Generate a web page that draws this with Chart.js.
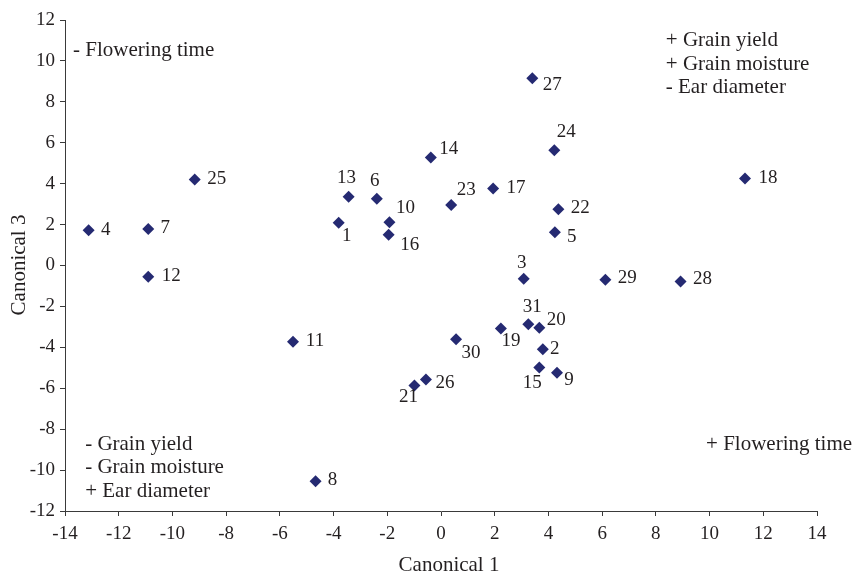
<!DOCTYPE html>
<html>
<head>
<meta charset="utf-8">
<script src="https://cdn.jsdelivr.net/npm/chart.js@4/dist/chart.umd.min.js"></script>
<style>
  html, body { margin: 0; padding: 0; background: #fff; }
  canvas { display: block; }
</style>
</head>
<body>
<canvas id="chart" width="855" height="577"></canvas>
<script>
// genotype numbers and their canonical scores
const genotypes = ['1','2','3','4','5','6','7','8','9','10','11','12','13','14','15','16',
                   '17','18','19','20','21','22','23','24','25','26','27','28','29','30','31'];
const canonical1 = [-3.81, 3.79, 3.08, -13.12, 4.24, -2.39, -10.90, -4.67, 4.32, -1.92, -5.51,
                    -10.90, -3.44, -0.38, 3.66, -1.95, 1.94, 11.32, 2.23, 3.66, -0.99, 4.37,
                    0.38, 4.22, -9.17, -0.56, 3.40, 8.92, 6.12, 0.56, 3.25];
const canonical3 = [2.09, -4.09, -0.65, 1.72, 1.63, 3.26, 1.79, -10.54, -5.24, 2.12, -3.73,
                    -0.55, 3.36, 5.28, -4.98, 1.50, 3.76, 4.25, -3.08, -3.04, -5.86, 2.75,
                    2.96, 5.63, 4.20, -5.57, 9.15, -0.78, -0.70, -3.60, -2.87];

// quadrant notes
const notes = [
    ['- Flowering time'],
    ['+ Grain yield', '+ Grain moisture', '- Ear diameter'],
    ['- Grain yield', '- Grain moisture', '+ Ear diameter'],
    ['+ Flowering time']
];

const textColor = '#231f20';
const axisColor = '#3a3a3a';
const serif = "'Liberation Serif', 'Times New Roman', serif";

// where each number sits relative to its marker (pixels)
const labelOffsets = {
    '1': [8, 13], '2': [12, 0], '3': [-2, -16], '4': [17, 0], '5': [17, 5], '6': [-2, -18],
    '7': [17, -1], '8': [17, -1], '9': [12, 7], '10': [16, -14], '11': [22, -1], '12': [23, -1],
    '13': [-2, -19], '14': [18, -8], '15': [-7, 16], '16': [21, 10], '17': [23, -1], '18': [23, -1],
    '19': [10, 13], '20': [17, -8], '21': [-6, 12], '22': [22, -1], '23': [15, -15], '24': [12, -18],
    '25': [22, -1], '26': [19, 4], '27': [20, 7], '28': [22, -2], '29': [22, -2], '30': [15, 14],
    '31': [4, -17]
};

// note anchors in data units (left edge, first baseline)
const noteAnchors = [[-13.7, 10.26], [8.37, 10.71], [-13.25, -9.0], [9.87, -9.0]];

const pointLabels = {
    id: 'pointLabels',
    afterDatasetsDraw(chart) {
        const ctx = chart.ctx;
        const meta = chart.getDatasetMeta(0);
        ctx.save();
        ctx.font = '19px ' + serif;
        ctx.fillStyle = textColor;
        ctx.textAlign = 'center';
        ctx.textBaseline = 'middle';
        meta.data.forEach((pt, i) => {
            const off = labelOffsets[genotypes[i]] || [15, 0];
            ctx.fillText(genotypes[i], pt.x + off[0], pt.y + off[1]);
        });

        const xs = chart.scales.x, ys = chart.scales.y;
        ctx.font = '21px ' + serif;
        ctx.textAlign = 'left';
        ctx.textBaseline = 'alphabetic';
        notes.forEach((lines, k) => {
            const x = xs.getPixelForValue(noteAnchors[k][0]);
            const y = ys.getPixelForValue(noteAnchors[k][1]);
            lines.forEach((line, j) => ctx.fillText(line, x, y + j * 23.5));
        });

        // axis titles
        ctx.textAlign = 'center';
        ctx.textBaseline = 'middle';
        ctx.fillText('Canonical 1', 449, 565);
        ctx.translate(19, 265);
        ctx.rotate(-Math.PI / 2);
        ctx.fillText('Canonical 3', 0, 0);
        ctx.restore();
    }
};

const ctx = document.getElementById('chart').getContext('2d');
new Chart(ctx, {
    type: 'scatter',
    data: {
        datasets: [{
            data: canonical1.map((v, i) => ({ x: v, y: canonical3[i] })),
            pointStyle: 'rectRot',
            pointRadius: 6,
            pointHoverRadius: 6,
            backgroundColor: '#252a72',
            borderColor: '#252a72',
            borderWidth: 0
        }]
    },
    options: {
        responsive: false,
        animation: false,
        layout: { padding: { top: 20, right: 38, left: 0, bottom: 0 } },
        plugins: { legend: { display: false }, tooltip: { enabled: false } },
        scales: {
            x: {
                type: 'linear',
                min: -14, max: 14,
                afterFit: s => { s.height = 66; },
                ticks: { stepSize: 2, color: textColor, padding: 7, font: { family: serif, size: 19 } },
                grid: { drawOnChartArea: false, drawTicks: true, tickLength: 5, color: axisColor },
                border: { display: true, color: axisColor, width: 1 }
            },
            y: {
                type: 'linear',
                min: -12, max: 12,
                afterFit: s => { s.width = 65; },
                ticks: { stepSize: 2, color: textColor, padding: 5, font: { family: serif, size: 19 } },
                grid: { drawOnChartArea: false, drawTicks: true, tickLength: 5, color: axisColor },
                border: { display: true, color: axisColor, width: 1 }
            }
        }
    },
    plugins: [pointLabels]
});
</script>
</body>
</html>
